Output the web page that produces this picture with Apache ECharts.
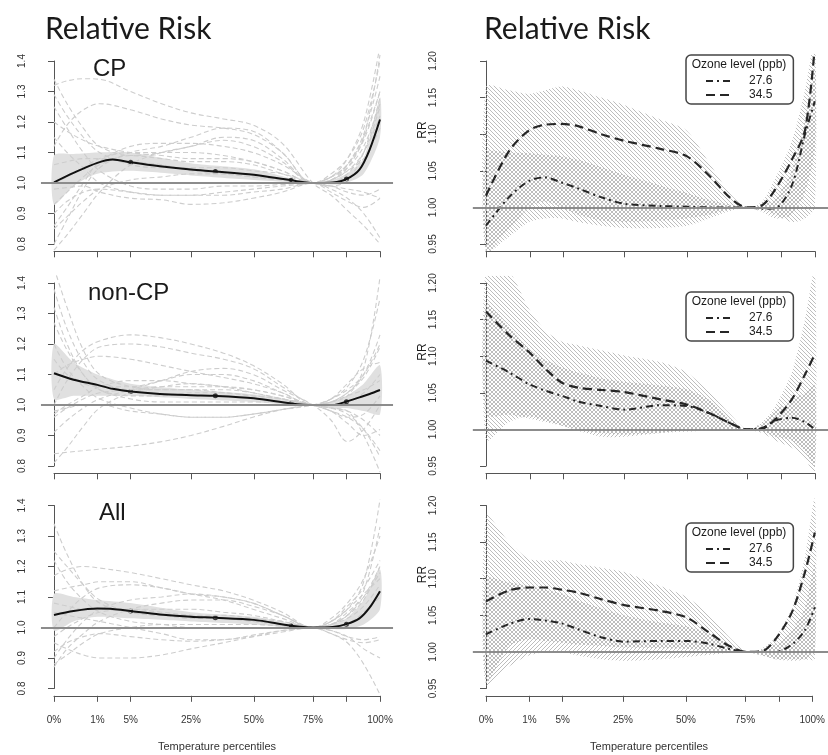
<!DOCTYPE html>
<html>
<head>
<meta charset="utf-8">
<script src="https://cdn.jsdelivr.net/npm/echarts@6/dist/echarts.min.js"></script>
<style>
html, body { margin: 0; padding: 0; background: #fff; }
#chart { width: 828px; height: 755px; }
</style>
</head>
<body>
<div id="chart"></div>
<script>
// x is the plotted percentile scale: 0 = 0% tick, 100 = 100% tick
const tickPos = [0, 13.3, 23.5, 42, 61.3, 79.4, 89.8, 100];
const tickLabels = ['0%', '1%', '5%', '25%', '50%', '75%', '', '100%'];
const panelNames = ['CP', 'non-CP', 'All'];
const ozoneLevels = ['27.6', '34.5'];

// city-specific curves (grey dashed), left column
const cityX = [0, 4, 9, 14, 23.5, 33, 42, 52, 61, 70, 79.4, 85, 90, 95, 100];
const cityCP = [
    [1.32, 1.335, 1.342, 1.34, 1.30, 1.26, 1.23, 1.21, 1.19, 1.13, 1.0, 0.96, 0.91, 0.86, 0.80],
    [1.12, 1.19, 1.24, 1.26, 1.24, 1.21, 1.19, 1.18, 1.16, 1.10, 1.0, 1.02, 1.06, 1.15, 1.30],
    [1.34, 1.26, 1.18, 1.12, 1.09, 1.10, 1.12, 1.14, 1.12, 1.07, 1.0, 1.01, 1.05, 1.15, 1.42],
    [0.80, 0.88, 0.98, 1.05, 1.10, 1.12, 1.15, 1.18, 1.17, 1.10, 1.0, 1.02, 1.08, 1.20, 1.45],
    [0.78, 0.83, 0.90, 0.97, 1.06, 1.10, 1.12, 1.15, 1.14, 1.08, 1.0, 1.01, 1.06, 1.16, 1.35],
    [0.86, 0.92, 1.00, 1.07, 1.12, 1.13, 1.13, 1.12, 1.10, 1.06, 1.0, 0.99, 1.01, 1.10, 1.28],
    [1.20, 1.17, 1.14, 1.12, 1.10, 1.09, 1.08, 1.08, 1.07, 1.04, 1.0, 1.00, 1.03, 1.10, 1.25],
    [1.29, 1.22, 1.15, 1.10, 1.06, 1.05, 1.05, 1.05, 1.04, 1.03, 1.0, 0.99, 0.98, 0.97, 0.95],
    [0.98, 0.985, 0.99, 0.97, 0.95, 0.945, 0.93, 0.935, 0.95, 0.97, 1.0, 0.97, 0.94, 0.92, 0.95],
    [0.90, 0.94, 0.97, 0.98, 0.97, 0.96, 0.96, 0.96, 0.97, 0.98, 1.0, 0.98, 0.95, 0.90, 0.82],
    [1.06, 1.07, 1.08, 1.08, 1.07, 1.06, 1.04, 1.03, 1.02, 1.01, 1.0, 1.01, 1.04, 1.10, 1.22],
    [1.00, 1.02, 1.05, 1.08, 1.10, 1.10, 1.10, 1.09, 1.07, 1.04, 1.0, 1.02, 1.06, 1.14, 1.30],
    [0.93, 0.97, 1.02, 1.06, 1.09, 1.08, 1.07, 1.07, 1.06, 1.03, 1.0, 1.02, 1.05, 1.12, 1.26],
    [1.15, 1.10, 1.05, 1.00, 0.97, 0.96, 0.96, 0.97, 0.98, 0.99, 1.0, 1.01, 1.04, 1.08, 1.18],
    [1.25, 1.18, 1.10, 1.04, 0.99, 0.98, 0.98, 0.99, 0.99, 0.995, 1.0, 0.99, 0.97, 0.96, 0.98],
    [0.85, 0.89, 0.94, 0.98, 1.01, 1.02, 1.03, 1.03, 1.02, 1.01, 1.0, 1.03, 1.08, 1.18, 1.40]
];
const cityNonCP = [
    [1.45, 1.32, 1.18, 1.10, 1.06, 1.05, 1.05, 1.04, 1.03, 1.02, 1.0, 1.01, 1.03, 1.12, 1.42],
    [1.38, 1.25, 1.14, 1.08, 1.05, 1.05, 1.05, 1.05, 1.04, 1.02, 1.0, 0.99, 0.98, 0.90, 0.78],
    [1.32, 1.20, 1.10, 1.05, 1.03, 1.03, 1.04, 1.04, 1.03, 1.02, 1.0, 1.02, 1.05, 1.10, 1.20],
    [1.27, 1.18, 1.10, 1.05, 1.02, 1.01, 1.01, 1.01, 1.01, 1.01, 1.0, 0.98, 0.96, 0.92, 0.85],
    [0.84, 0.845, 0.85, 0.855, 0.865, 0.88, 0.90, 0.93, 0.96, 0.985, 1.0, 1.01, 1.04, 1.09, 1.19],
    [0.81, 0.86, 0.93, 0.99, 1.04, 1.06, 1.07, 1.06, 1.05, 1.03, 1.0, 0.98, 0.94, 0.90, 0.92],
    [1.05, 1.12, 1.18, 1.21, 1.23, 1.22, 1.20, 1.17, 1.13, 1.07, 1.0, 1.01, 1.04, 1.10, 1.23],
    [1.00, 1.08, 1.15, 1.19, 1.20, 1.19, 1.17, 1.15, 1.12, 1.06, 1.0, 0.99, 0.98, 0.95, 0.90],
    [1.10, 1.13, 1.15, 1.16, 1.15, 1.13, 1.11, 1.09, 1.07, 1.04, 1.0, 1.00, 1.01, 1.04, 1.10],
    [0.91, 0.95, 0.99, 1.02, 1.05, 1.08, 1.11, 1.12, 1.10, 1.05, 1.0, 0.95, 0.88, 0.92, 1.00],
    [0.98, 0.99, 1.00, 1.00, 0.98, 0.97, 0.96, 0.96, 0.97, 0.985, 1.0, 0.99, 0.97, 0.92, 0.83],
    [1.20, 1.12, 1.06, 1.02, 0.99, 0.97, 0.96, 0.96, 0.97, 0.985, 1.0, 1.02, 1.06, 1.15, 1.35],
    [0.96, 0.99, 1.02, 1.04, 1.05, 1.06, 1.06, 1.06, 1.05, 1.03, 1.0, 1.01, 1.03, 1.05, 1.08],
    [1.15, 1.10, 1.07, 1.06, 1.06, 1.08, 1.10, 1.10, 1.08, 1.04, 1.0, 1.02, 1.07, 1.12, 1.14],
    [0.97, 1.00, 1.03, 1.06, 1.08, 1.08, 1.07, 1.06, 1.04, 1.02, 1.0, 0.98, 0.96, 0.97, 1.03]
];
const cityAll = [
    [1.34, 1.24, 1.14, 1.08, 1.05, 1.04, 1.04, 1.04, 1.03, 1.02, 1.0, 1.02, 1.06, 1.15, 1.42],
    [1.25, 1.20, 1.14, 1.09, 1.05, 1.04, 1.03, 1.03, 1.02, 1.01, 1.0, 0.98, 0.95, 0.88, 0.78],
    [1.17, 1.19, 1.20, 1.195, 1.18, 1.16, 1.14, 1.12, 1.09, 1.05, 1.0, 1.02, 1.07, 1.13, 1.22],
    [1.12, 1.13, 1.14, 1.15, 1.15, 1.13, 1.11, 1.10, 1.08, 1.04, 1.0, 1.01, 1.04, 1.10, 1.20],
    [0.87, 0.93, 0.98, 1.02, 1.06, 1.08, 1.09, 1.09, 1.07, 1.04, 1.0, 1.01, 1.04, 1.12, 1.33],
    [0.95, 0.93, 0.91, 0.90, 0.90, 0.91, 0.93, 0.95, 0.97, 0.99, 1.0, 0.98, 0.96, 0.95, 0.96],
    [0.92, 0.95, 0.97, 0.98, 0.97, 0.96, 0.955, 0.96, 0.97, 0.985, 1.0, 0.99, 0.97, 0.93, 0.90],
    [1.00, 1.05, 1.10, 1.13, 1.14, 1.13, 1.11, 1.09, 1.06, 1.03, 1.0, 1.02, 1.06, 1.11, 1.16],
    [1.05, 1.04, 1.03, 1.02, 1.00, 0.98, 0.96, 0.96, 0.975, 0.99, 1.0, 1.01, 1.05, 1.10, 1.18],
    [0.97, 1.00, 1.03, 1.05, 1.06, 1.06, 1.06, 1.05, 1.04, 1.02, 1.0, 0.99, 0.97, 0.96, 0.97],
    [1.22, 1.15, 1.09, 1.05, 1.02, 1.01, 1.00, 1.00, 1.00, 1.00, 1.0, 1.03, 1.08, 1.16, 1.30],
    [0.90, 0.96, 1.02, 1.06, 1.09, 1.10, 1.11, 1.10, 1.08, 1.04, 1.0, 1.00, 1.01, 1.05, 1.10],
    [1.08, 1.07, 1.06, 1.06, 1.06, 1.05, 1.04, 1.03, 1.02, 1.01, 1.0, 1.01, 1.03, 1.07, 1.14],
    [0.88, 0.91, 0.95, 0.98, 1.00, 1.01, 1.01, 1.01, 1.01, 1.005, 1.0, 1.01, 1.04, 1.09, 1.20]
];

// pooled curve (black) and its dots
const pooledX = [0, 6, 13.3, 18, 23.5, 32.5, 42, 49.5, 61.3, 72.7, 79.4, 85.5, 89.7, 93.7, 96.8, 100];
const pooledCP = [1.002, 1.033, 1.066, 1.077, 1.068, 1.055, 1.044, 1.038, 1.027, 1.009, 1.0, 1.002, 1.013, 1.044, 1.109, 1.208];
const pooledNonCP = [1.104, 1.083, 1.066, 1.053, 1.044, 1.036, 1.032, 1.030, 1.022, 1.005, 1.0, 1.0, 1.011, 1.025, 1.036, 1.049];
const pooledAll = [1.041, 1.054, 1.062, 1.061, 1.054, 1.043, 1.035, 1.032, 1.025, 1.006, 1.0, 1.002, 1.011, 1.030, 1.065, 1.119];
const dotX = [23.5, 49.5, 72.7, 89.7];

// pooled confidence band (grey fill)
const bandX = [0, 6, 13.3, 23.5, 42, 61.3, 72.7, 79.4, 85.5, 89.7, 95, 100];
const bandLoCP = [0.93, 0.99, 1.03, 1.04, 1.025, 1.01, 1.003, 1.0, 0.995, 1.0, 1.03, 1.15];
const bandHiCP = [1.09, 1.095, 1.10, 1.10, 1.065, 1.045, 1.015, 1.0, 1.01, 1.03, 1.08, 1.28];
const bandLoNonCP = [1.02, 1.03, 1.03, 1.03, 1.02, 1.01, 1.0, 1.0, 0.99, 0.99, 0.98, 0.97];
const bandHiNonCP = [1.20, 1.14, 1.10, 1.07, 1.05, 1.035, 1.012, 1.0, 1.01, 1.03, 1.07, 1.13];
const bandLoAll = [0.99, 1.02, 1.035, 1.03, 1.02, 1.01, 1.0, 1.0, 0.995, 0.995, 1.01, 1.06];
const bandHiAll = [1.11, 1.10, 1.09, 1.08, 1.05, 1.035, 1.012, 1.0, 1.01, 1.03, 1.09, 1.19];

// right column: RR by ozone level
const ozX = [0, 7, 13, 18, 23, 28, 35, 42, 53, 61, 68, 74, 79.3, 84, 88, 93, 97, 100];
const oz276CP = [0.975, 1.014, 1.036, 1.041, 1.034, 1.026, 1.014, 1.005, 1.002, 1.001, 1.0, 1.0, 1.0, 0.998, 0.999, 1.03, 1.10, 1.145];
const oz345CP = [1.016, 1.077, 1.105, 1.113, 1.114, 1.111, 1.10, 1.091, 1.08, 1.07, 1.043, 1.014, 1.0, 1.003, 1.025, 1.065, 1.105, 1.22];
const oz276NonCP = [1.094, 1.078, 1.062, 1.053, 1.046, 1.038, 1.032, 1.027, 1.033, 1.032, 1.022, 1.009, 1.0, 1.002, 1.012, 1.016, 1.01, 1.0];
const oz345NonCP = [1.161, 1.129, 1.106, 1.083, 1.064, 1.057, 1.054, 1.051, 1.041, 1.034, 1.022, 1.009, 1.0, 1.001, 1.014, 1.041, 1.075, 1.103];
const oz276All = [1.024, 1.038, 1.045, 1.043, 1.039, 1.031, 1.02, 1.014, 1.015, 1.015, 1.011, 1.004, 1.0, 1.0, 1.0, 1.01, 1.03, 1.061];
const oz345All = [1.069, 1.084, 1.088, 1.088, 1.085, 1.081, 1.072, 1.064, 1.056, 1.047, 1.026, 1.008, 1.0, 1.001, 1.017, 1.054, 1.109, 1.163];

// hatched confidence bands (A = 34.5, B = 27.6)
const ciLoA_CP = [0.94, 0.96, 0.98, 0.985, 0.985, 0.98, 0.975, 0.972, 0.972, 0.975, 0.985, 0.995, 1.0, 0.998, 0.99, 0.98, 0.985, 1.0];
const ciHiA_CP = [1.165, 1.16, 1.155, 1.16, 1.165, 1.16, 1.15, 1.14, 1.12, 1.105, 1.06, 1.02, 1.0, 1.008, 1.04, 1.09, 1.16, 1.23];
const ciLoB_CP = [0.94, 0.97, 1.0, 1.008, 1.0, 0.99, 0.982, 0.98, 0.982, 0.985, 0.99, 0.997, 1.0, 0.994, 0.985, 0.99, 1.02, 1.08];
const ciHiB_CP = [1.075, 1.075, 1.074, 1.072, 1.07, 1.065, 1.055, 1.045, 1.03, 1.02, 1.01, 1.004, 1.0, 1.003, 1.012, 1.05, 1.12, 1.19];
const ciLoA_NonCP = [0.985, 1.01, 1.018, 1.012, 1.005, 1.0, 0.995, 0.993, 0.995, 0.997, 0.999, 1.0, 1.0, 0.995, 0.985, 0.975, 0.96, 0.94];
const ciHiA_NonCP = [1.22, 1.215, 1.165, 1.135, 1.12, 1.115, 1.108, 1.101, 1.092, 1.078, 1.05, 1.022, 1.0, 1.01, 1.032, 1.078, 1.15, 1.22];
const ciLoB_NonCP = [1.02, 1.02, 1.015, 1.01, 1.005, 0.998, 0.99, 0.99, 0.995, 1.0, 1.0, 1.0, 1.0, 0.997, 0.99, 0.985, 0.97, 0.95];
const ciHiB_NonCP = [1.17, 1.14, 1.11, 1.095, 1.085, 1.078, 1.07, 1.065, 1.06, 1.055, 1.04, 1.015, 1.0, 1.008, 1.025, 1.04, 1.05, 1.06];
const ciLoA_All = [0.958, 1.008, 1.017, 1.015, 1.013, 1.01, 1.008, 1.006, 1.005, 1.004, 1.002, 1.0, 1.0, 0.995, 0.99, 0.99, 0.99, 0.99];
const ciHiA_All = [1.186, 1.15, 1.127, 1.125, 1.125, 1.12, 1.115, 1.109, 1.09, 1.075, 1.05, 1.02, 1.0, 1.005, 1.02, 1.06, 1.13, 1.21];
const ciLoB_All = [0.955, 0.98, 0.995, 1.0, 1.0, 0.995, 0.99, 0.988, 0.99, 0.993, 0.996, 0.999, 1.0, 0.995, 0.99, 0.988, 0.99, 1.0];
const ciHiB_All = [1.10, 1.095, 1.09, 1.085, 1.08, 1.07, 1.06, 1.05, 1.04, 1.035, 1.025, 1.01, 1.0, 1.003, 1.01, 1.03, 1.06, 1.12];

const ROWS = [61, 283, 505.5];
const ROW_H = 183;
const COLS = [{ left: 54, width: 326 }, { left: 486, width: 329 }];
const legendTops = [55, 292, 523];
const AXIS_COLOR = '#555';
const LABEL_FONT = 'Liberation Sans';
const CURVE_COLOR = '#262626';

let chart = echarts.init(document.getElementById('chart'));

// diagonal hatch tile for the ozone bands
function hatch(dir) {
    const c = document.createElement('canvas');
    c.width = 4;
    c.height = 4;
    const g = c.getContext('2d');
    g.strokeStyle = '#bdbdbd';
    g.lineWidth = 1;
    g.beginPath();
    for (let k = -4; k <= 4; k += 4) {
        if (dir > 0) {
            g.moveTo(k, 4);
            g.lineTo(k + 4, 0);
        } else {
            g.moveTo(k, 0);
            g.lineTo(k + 4, 4);
        }
    }
    g.stroke();
    return { image: c, repeat: 'repeat' };
}

function pts(x, y) {
    return x.map((v, i) => [v, y[i]]);
}

const grid = [], xAxis = [], yAxis = [], series = [];

const refLine = {
    silent: true,
    symbol: ['none', 'none'],
    label: { show: false },
    lineStyle: { color: '#8c8c8c', width: 2, type: 'solid' },
    data: [{ yAxis: 1 }]
};

function addPanel(col, row, yMin, yMax, yStep, digits, yLabelMargin) {
    const c = COLS[col];
    const t = ROWS[row];
    const ex = c.width * 0.04, ey = ROW_H * 0.04;
    const gi = grid.length;
    // axis frame (ticks only span the data range, like R)
    grid.push({ left: c.left, top: t, width: c.width, height: ROW_H });
    // plotting region, 4% wider each side
    grid.push({ left: c.left - ex, top: t - ey, width: c.width + 2 * ex, height: ROW_H + 2 * ey });
    const showX = row === 2;
    xAxis.push({
        gridIndex: gi,
        type: 'value',
        min: 0,
        max: 100,
        offset: ey,
        splitLine: { show: false },
        axisLine: { show: true, lineStyle: { color: AXIS_COLOR, width: 1 } },
        axisTick: { show: true, length: 6, customValues: tickPos, lineStyle: { color: AXIS_COLOR } },
        axisLabel: {
            show: showX,
            customValues: tickPos.filter((p, i) => tickLabels[i] !== ''),
            formatter: (v) => tickLabels[tickPos.indexOf(v)],
            margin: 19,
            fontSize: 10,
            fontFamily: LABEL_FONT,
            color: '#333'
        },
        name: showX ? 'Temperature percentiles' : '',
        nameLocation: 'middle',
        nameGap: 46,
        nameTextStyle: { fontSize: 11, fontFamily: LABEL_FONT, color: '#333' }
    });
    xAxis.push({ gridIndex: gi + 1, type: 'value', min: -4, max: 104, show: false });
    const yr = (yMax - yMin) * 0.04;
    yAxis.push({
        gridIndex: gi,
        type: 'value',
        min: yMin,
        max: yMax,
        interval: yStep,
        offset: c.width * 0.04,
        splitLine: { show: false },
        axisLine: { show: true, lineStyle: { color: AXIS_COLOR, width: 1 } },
        axisTick: { show: true, length: 6, lineStyle: { color: AXIS_COLOR } },
        axisLabel: {
            rotate: 90,
            margin: yLabelMargin,
            fontSize: 10,
            fontFamily: LABEL_FONT,
            color: '#333',
            formatter: (v) => v.toFixed(digits)
        }
    });
    yAxis.push({ gridIndex: gi + 1, type: 'value', min: yMin - yr, max: yMax + yr, show: false });
    return gi + 1;
}

// filled band between lo and hi, drawn through the axis scales
function band(ai, x, lo, hi, fill) {
    return {
        type: 'custom',
        xAxisIndex: ai,
        yAxisIndex: ai,
        silent: true,
        clip: true,
        data: [[x[0], lo[0]]],
        renderItem: function (params, api) {
            const top = x.map((v, i) => api.coord([v, hi[i]]));
            const bottom = x.map((v, i) => api.coord([v, lo[i]])).reverse();
            const cs = params.coordSys;
            return {
                type: 'group',
                clipPath: { type: 'rect', shape: { x: cs.x, y: cs.y, width: cs.width, height: cs.height } },
                children: [{
                    type: 'polygon',
                    shape: { points: top.concat(bottom), smooth: 0.25 },
                    style: { fill: fill, stroke: null }
                }]
            };
        }
    };
}

function leftPanel(row, cities, pooled, lo, hi) {
    const ai = addPanel(0, row, 0.8, 1.4, 0.1, 1, 14);
    series.push(band(ai, bandX, lo, hi, '#e0e0e0'));
    cities.forEach((c) => {
        series.push({
            type: 'line',
            xAxisIndex: ai,
            yAxisIndex: ai,
            data: pts(cityX, c),
            smooth: 0.35,
            symbol: 'none',
            silent: true,
            lineStyle: { color: '#cdcdcd', width: 1.1, type: [5, 3] }
        });
    });
    series.push({
        type: 'line',
        xAxisIndex: ai,
        yAxisIndex: ai,
        data: pts(pooledX, pooled),
        smooth: 0.3,
        symbol: 'none',
        lineStyle: { color: '#111', width: 2 },
        markLine: refLine
    });
    series.push({
        type: 'scatter',
        xAxisIndex: ai,
        yAxisIndex: ai,
        data: dotX.map((x) => [x, pooled[pooledX.indexOf(x)]]),
        symbolSize: 5,
        itemStyle: { color: '#111' }
    });
}

function rightPanel(row, low, high, loA, hiA, loB, hiB) {
    const ai = addPanel(1, row, 0.95, 1.2, 0.05, 2, 35);
    series.push(band(ai, ozX, loA, hiA, hatch(-1)));
    series.push(band(ai, ozX, loB, hiB, hatch(1)));
    series.push({
        name: ozoneLevels[0],
        type: 'line',
        xAxisIndex: ai,
        yAxisIndex: ai,
        data: pts(ozX, low),
        smooth: 0.3,
        symbol: 'none',
        itemStyle: { color: CURVE_COLOR },
        lineStyle: { color: CURVE_COLOR, width: 2, type: [7, 4, 2, 4] },
        markLine: refLine
    });
    series.push({
        name: ozoneLevels[1],
        type: 'line',
        xAxisIndex: ai,
        yAxisIndex: ai,
        data: pts(ozX, high),
        smooth: 0.3,
        symbol: 'none',
        itemStyle: { color: CURVE_COLOR },
        lineStyle: { color: CURVE_COLOR, width: 2.2, type: [9, 5] }
    });
}

leftPanel(0, cityCP, pooledCP, bandLoCP, bandHiCP);
leftPanel(1, cityNonCP, pooledNonCP, bandLoNonCP, bandHiNonCP);
leftPanel(2, cityAll, pooledAll, bandLoAll, bandHiAll);
rightPanel(0, oz276CP, oz345CP, ciLoA_CP, ciHiA_CP, ciLoB_CP, ciHiB_CP);
rightPanel(1, oz276NonCP, oz345NonCP, ciLoA_NonCP, ciHiA_NonCP, ciLoB_NonCP, ciHiB_NonCP);
rightPanel(2, oz276All, oz345All, ciLoA_All, ciHiA_All, ciLoB_All, ciHiB_All);

function txt(str, x, y, font, align, rot) {
    return {
        type: 'text',
        x: x,
        y: y,
        rotation: rot || 0,
        z: 100,
        silent: true,
        style: {
            text: str,
            font: font,
            fill: '#1a1a1a',
            align: align,
            verticalAlign: 'middle',
            textAlign: align,
            textVerticalAlign: 'middle'
        }
    };
}

const graphic = [
    txt('Relative Risk', 45, 29, '30px Lato', 'left'),
    txt('Relative Risk', 484, 29, '30px Lato', 'left'),
    txt(panelNames[0], 93, 69, '24px "Liberation Sans"', 'left'),
    txt(panelNames[1], 88, 293, '24px "Liberation Sans"', 'left'),
    txt(panelNames[2], 99, 513, '24px "Liberation Sans"', 'left')
];
ROWS.forEach((t, i) => {
    graphic.push(txt('RR', 423, t + 69, '12px "Liberation Sans"', 'center', Math.PI / 2));
    graphic.push(txt('Ozone level (ppb)', 739, legendTops[i] + 10, '12px "Liberation Sans"', 'center'));
});

const legend = legendTops.map((top) => ({
    data: ozoneLevels,
    orient: 'vertical',
    left: 686,
    top: top,
    padding: [20, 21, 3, 19],
    itemGap: 2,
    itemWidth: 24,
    itemHeight: 14,
    selectedMode: false,
    backgroundColor: '#fff',
    borderColor: '#444',
    borderWidth: 1.5,
    borderRadius: 5,
    itemStyle: { opacity: 0 },
    lineStyle: { color: CURVE_COLOR, width: 2 },
    textStyle: { fontSize: 12, fontFamily: LABEL_FONT, color: '#222', padding: [0, 0, 0, 14] }
}));

chart.setOption({
    animation: false,
    backgroundColor: '#fff',
    grid: grid,
    xAxis: xAxis,
    yAxis: yAxis,
    legend: legend,
    series: series,
    graphic: graphic
});
</script>
</body>
</html>
